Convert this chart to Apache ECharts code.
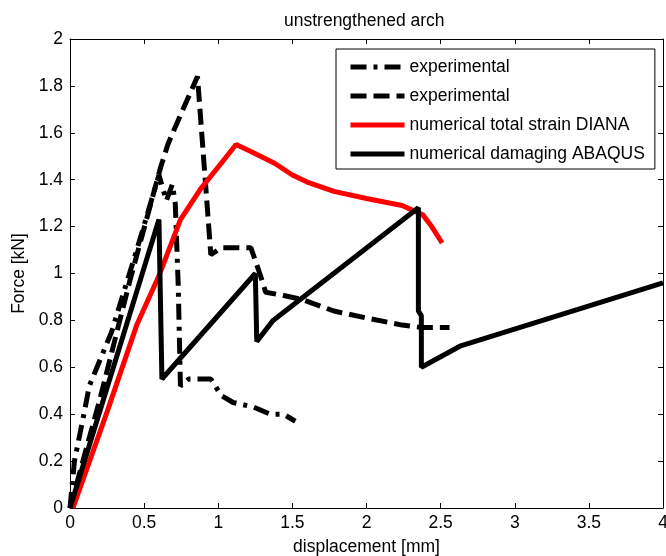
<!DOCTYPE html>
<html>
<head>
<meta charset="utf-8">
<script src="https://cdn.jsdelivr.net/npm/echarts@6/dist/echarts.min.js"></script>
<style>
  html, body { margin: 0; padding: 0; background: #fff; }
  #archChart { width: 666px; height: 556px; }
</style>
</head>
<body>
<div id="archChart"></div>
<script>
// [displacement mm, force kN]
const expDashDot = [[0,0],[0.03,0.2],[0.1,0.42],[0.13,0.52],[0.28,0.75],[0.45,1.1],[0.6,1.42],[0.65,1.31],[0.69,1.38],[0.71,1.3],[0.73,0.95],[0.745,0.52],[0.8,0.55],[0.95,0.55],[1.02,0.48],[1.1,0.45],[1.24,0.43],[1.35,0.40],[1.44,0.40],[1.52,0.37]];
const expDashed = [[0,0],[0.2,0.46],[0.4,0.96],[0.61,1.45],[0.66,1.55],[0.70,1.61],[0.79,1.74],[0.86,1.84],[0.95,1.08],[1.02,1.11],[1.22,1.11],[1.28,1.0],[1.32,0.92],[1.45,0.905],[1.56,0.89],[1.78,0.84],[2.0,0.81],[2.24,0.78],[2.37,0.77],[2.56,0.77]];
const dianaTotalStrain = [[0.02,0],[0.25,0.41],[0.45,0.78],[0.6,0.99],[0.745,1.23],[0.88,1.36],[1.02,1.47],[1.12,1.55],[1.22,1.52],[1.38,1.47],[1.5,1.42],[1.6,1.39],[1.78,1.35],[2.0,1.32],[2.24,1.29],[2.38,1.25],[2.44,1.2],[2.51,1.13]];
const abaqusDamaging = [[0,0],[0.6,1.23],[0.62,0.55],[1.25,1.0],[1.26,0.71],[1.37,0.8],[2.35,1.28],[2.35,0.84],[2.37,0.82],[2.37,0.6],[2.63,0.69],[4,0.96]];

// the two experimental curves share a label, so the second name carries a trailing space
const seriesNames = ['experimental', 'experimental ', 'numerical total strain DIANA', 'numerical damaging ABAQUS'];

const chart = echarts.init(document.getElementById('archChart'));
const font = 'Liberation Sans, Arial, Helvetica, sans-serif';
const fs = 17.5;

const tickCommon = { show: true, inside: true, length: 5, lineStyle: { color: '#000', width: 1 } };
const lineCommon = { show: true, onZero: false, lineStyle: { color: '#000', width: 1 } };

const option = {
  animation: false,
  backgroundColor: '#fff',
  title: {
    text: 'unstrengthened arch',
    left: 284,
    top: 12,
    padding: 0,
    textStyle: { fontFamily: font, fontSize: fs, fontWeight: 'normal', color: '#000' }
  },
  legend: {
    data: seriesNames,
    orient: 'vertical',
    left: 336,
    top: 49,
    itemWidth: 54,
    itemHeight: 14,
    itemGap: 11,
    padding: [9, 10, 6, 12],
    backgroundColor: '#fff',
    borderColor: '#000',
    borderWidth: 1,
    borderRadius: 0,
    itemStyle: { opacity: 0, borderWidth: 0 },
    lineStyle: { width: 5 },
    textStyle: { fontFamily: font, fontSize: fs, color: '#000' }
  },
  grid: { left: 70, right: 3, top: 39, bottom: 48, containLabel: false, outerBoundsMode: 'none' },
  xAxis: [
    {
      type: 'value', min: 0, max: 4, interval: 0.5,
      axisLine: lineCommon, axisTick: tickCommon, splitLine: { show: false },
      axisLabel: { margin: 6, fontFamily: font, fontSize: fs, color: '#000' },
      name: 'displacement [mm]', nameLocation: 'middle', nameGap: 30,
      nameTextStyle: { fontFamily: font, fontSize: fs, color: '#000' }
    },
    {
      type: 'value', min: 0, max: 4, interval: 0.5, position: 'top',
      axisLine: lineCommon, axisTick: tickCommon, splitLine: { show: false },
      axisLabel: { show: false }
    }
  ],
  yAxis: [
    {
      type: 'value', min: 0, max: 2, interval: 0.2,
      axisLine: lineCommon, axisTick: tickCommon, splitLine: { show: false },
      axisLabel: { margin: 7, fontFamily: font, fontSize: fs, color: '#000' },
      name: 'Force [kN]', nameLocation: 'middle', nameGap: 41,
      nameTextStyle: { fontFamily: font, fontSize: fs, color: '#000' }
    },
    {
      type: 'value', min: 0, max: 2, interval: 0.2, position: 'right',
      axisLine: lineCommon, axisTick: tickCommon, splitLine: { show: false },
      axisLabel: { show: false }
    }
  ],
  series: [
    {
      name: seriesNames[0], type: 'line', data: expDashDot,
      symbol: 'none', showSymbol: false, itemStyle: { color: '#000' },
      lineStyle: { color: '#000', width: 5, type: [16, 7, 4, 7] }
    },
    {
      name: seriesNames[1], type: 'line', data: expDashed,
      symbol: 'none', showSymbol: false, itemStyle: { color: '#000' },
      lineStyle: { color: '#000', width: 5, type: [16, 7] }
    },
    {
      name: seriesNames[2], type: 'line', data: dianaTotalStrain,
      symbol: 'none', showSymbol: false, itemStyle: { color: '#ff0000' },
      lineStyle: { color: '#ff0000', width: 5 }
    },
    {
      name: seriesNames[3], type: 'line', data: abaqusDamaging,
      symbol: 'none', showSymbol: false, itemStyle: { color: '#000' },
      lineStyle: { color: '#000', width: 5 }
    }
  ]
};

chart.setOption(option);
</script>
</body>
</html>
